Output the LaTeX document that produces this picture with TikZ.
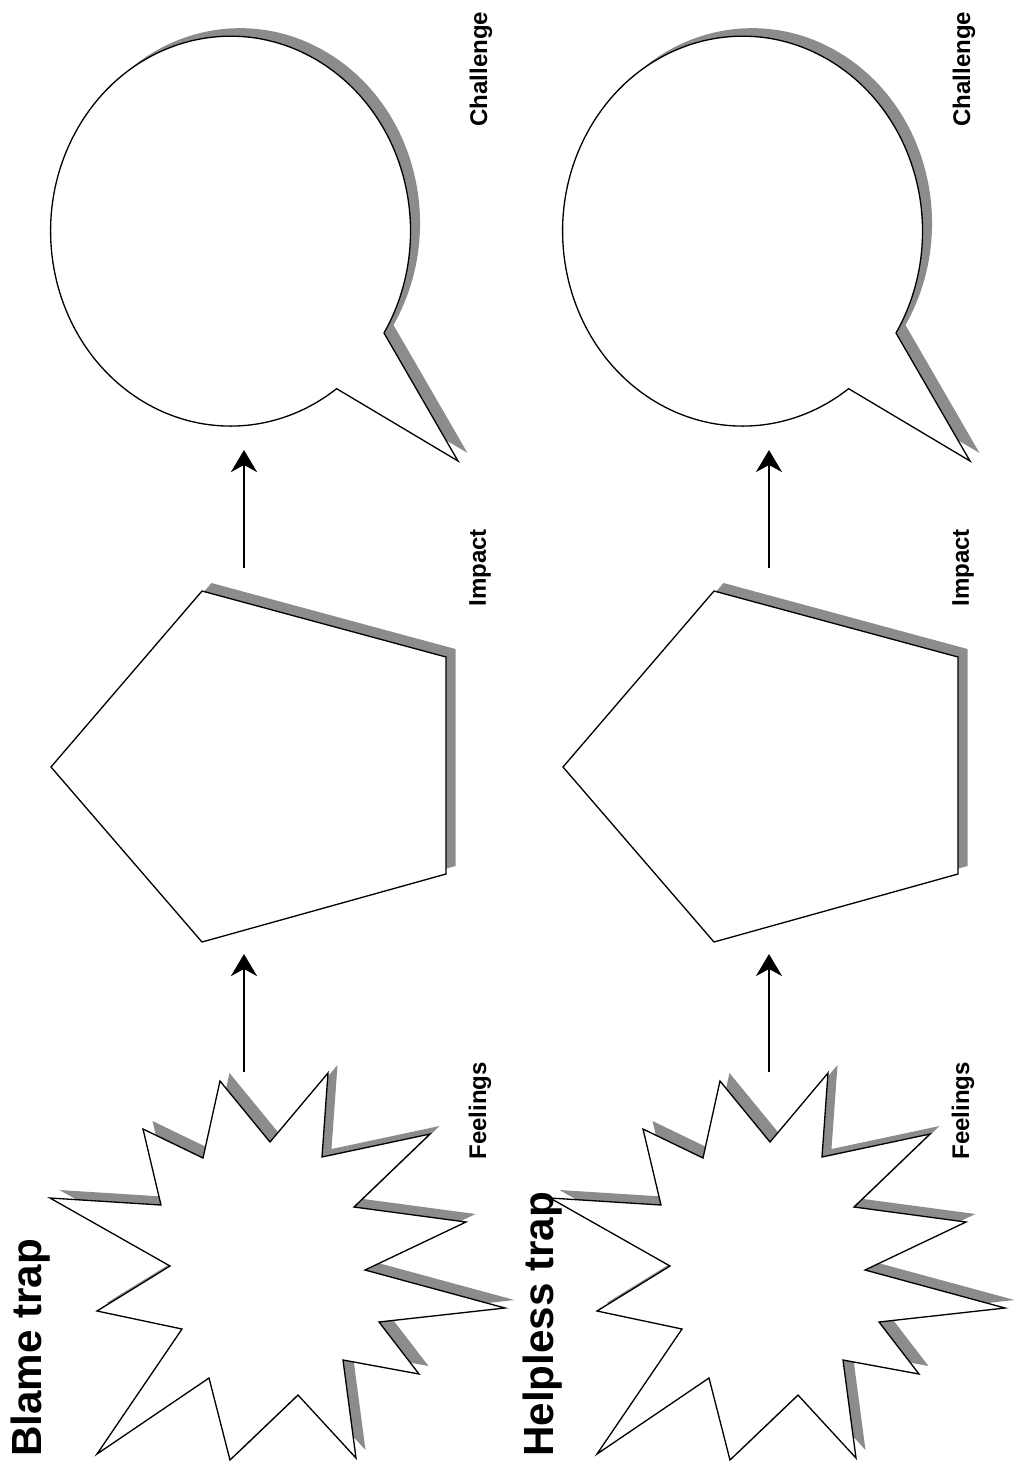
\documentclass[tikz,border=0pt]{standalone}
\usepackage{fontspec}
\setmainfont{Liberation Sans}
\usetikzlibrary{arrows.meta}

\definecolor{dropgray}{gray}{0.55}

\begin{document}
\begin{tikzpicture}[
  x=0.02cm, y=-0.02cm,
  outline/.style={draw=black, line width=0.75pt, fill=white,
    preaction={fill=dropgray, transform canvas={shift={(0.19cm,0.16cm)}}}},
  lbl/.style={rotate=90, anchor=west, inner sep=0pt, font=\bfseries\fontsize{13.7}{16}\selectfont},
  heading/.style={rotate=90, anchor=west, inner sep=0pt, font=\bfseries\fontsize{24}{29}\selectfont},
  arrow/.style={-{Stealth[length=0.44cm, width=0.52cm, inset=0.14cm]}, line width=1.3pt},
  burst/.pic={
    \draw[outline] (220,1081) -- (270,1142) -- (328,1073) -- (322,1157) -- (430,1134)
      -- (354,1207) -- (466,1222) -- (365,1270) -- (505,1308) -- (379,1322)
      -- (419,1374) -- (343,1360) -- (356,1458) -- (298,1395) -- (230,1460)
      -- (209,1378) -- (97,1454) -- (182,1329) -- (97,1311) -- (170,1266)
      -- (50,1198) -- (161,1205) -- (143,1129) -- (203,1158) -- cycle;
  },
  penta/.pic={
    \draw[outline] (202,591) -- (446,657) -- (446,874) -- (202,942) -- (51,767) -- cycle;
  },
  bubble/.pic={
    \draw[outline] (384,333) arc[start angle=-31.5, end angle=306.1, x radius=3.6cm, y radius=3.9cm]
      -- (458,461) -- cycle;
  }
]
\useasboundingbox[fill=white] (0,0) rectangle (1017,1465);

% one row per trap: shape offsets, arrow offset, label offset, title offset
\foreach \side/\sx/\px/\ax/\lx/\tx/\title in
  {bl/0/0/0/0/0/Blame trap, hp/500/512/525/483/512/Helpless trap} {

  % Shapes
  \pic at (\sx,0) {burst};
  \pic at (\px,0) {penta};
  \pic at (\px,0) {bubble};

  % Arrow end points
  \coordinate (\side-f1) at (244+\ax,1072);
  \coordinate (\side-f2) at (244+\ax,954);
  \coordinate (\side-i1) at (244+\ax,568);
  \coordinate (\side-i2) at (244+\ax,450);

  % Arrows
  \draw[arrow] (\side-f1) -- (\side-f2);
  \draw[arrow] (\side-i1) -- (\side-i2);

  % Labels
  \node[lbl] (\side-feel) at (480+\lx,1160) {Feelings};
  \node[lbl] (\side-imp) at (480+\lx,607) {Impact};
  \node[lbl] (\side-chal) at (481+\lx,127) {Challenge};
  \node[heading] (\side-title) at (31+\tx,1457) {\title};
}

\end{tikzpicture}
\end{document}
